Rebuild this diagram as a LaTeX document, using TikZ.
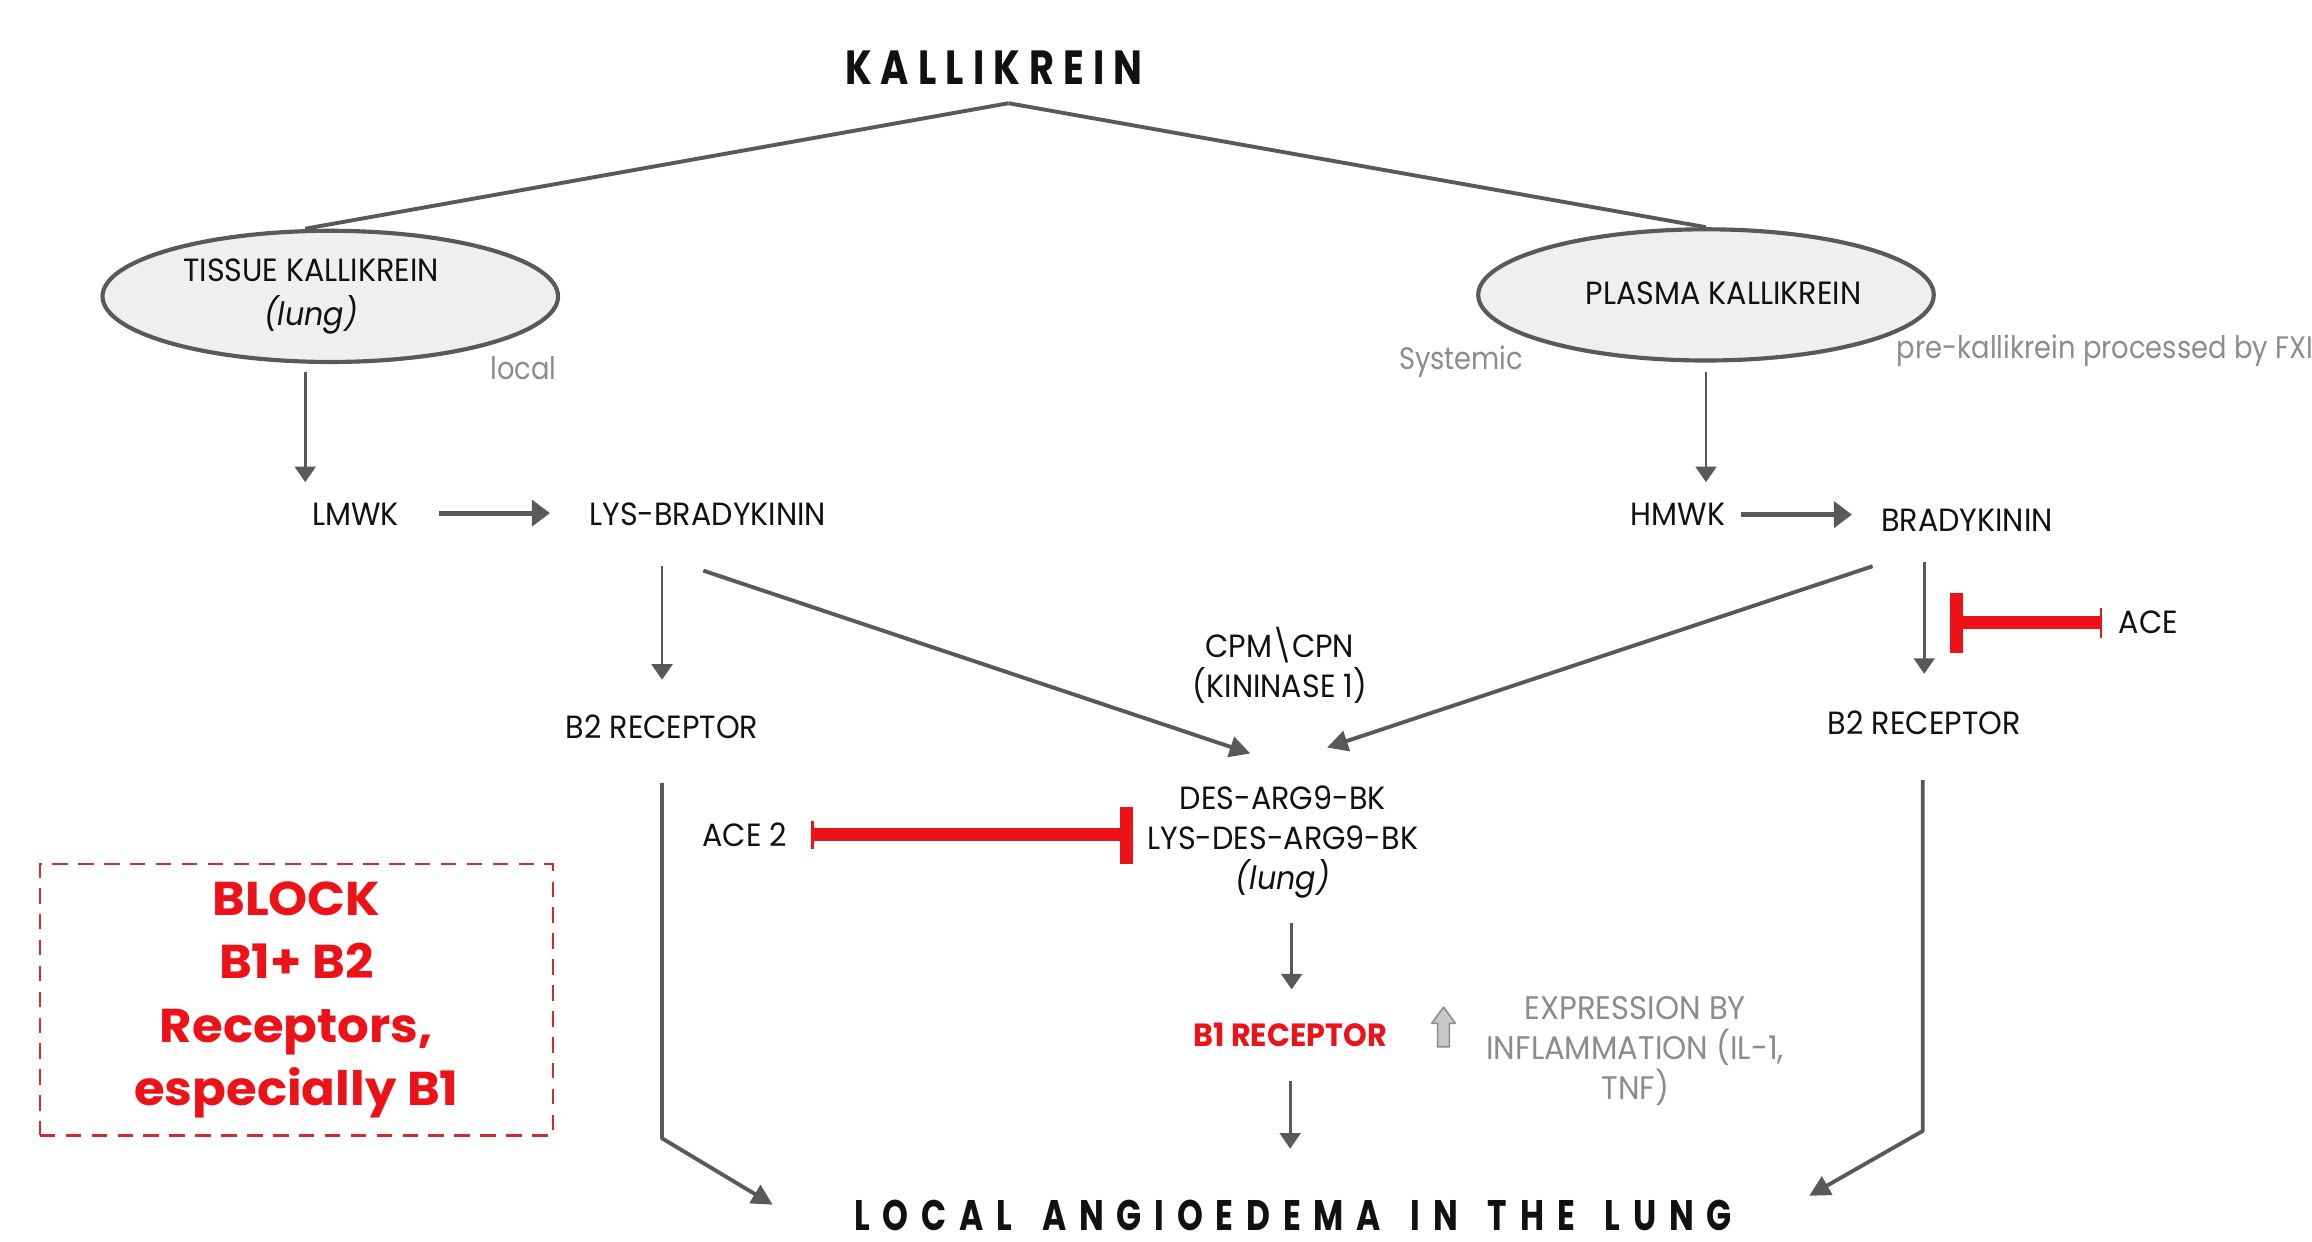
\documentclass[tikz,border=0pt]{standalone}
\usepackage{fontspec}
\setmainfont{Poppins}[FakeStretch=0.94]
\newfontfamily\narrowfont{Poppins}[FakeStretch=0.88]
\newfontfamily\blockfont{Poppins}[FakeStretch=1.05]
\newfontfamily\titlefont{Poppins}[FakeStretch=0.8,LetterSpace=19]
\newfontfamily\footfont{Poppins}[FakeStretch=0.77,LetterSpace=30]
\usetikzlibrary{arrows.meta,shapes.geometric,calc}
\definecolor{lc}{HTML}{595959}
\definecolor{tx}{HTML}{111111}
\definecolor{gt}{HTML}{8C8C8C}
\definecolor{rd}{HTML}{EC1218}
\definecolor{rdb}{HTML}{D42A2F}
\definecolor{ef}{HTML}{EFEFEF}
\definecolor{upf}{HTML}{C8C8C8}
\newcommand{\wsp}{\hspace{11.5pt}}
\begin{document}
\begin{tikzpicture}[x=0.02cm,y=-0.02cm,
  every node/.style={inner sep=0pt,text=tx},
  lbl/.style={font=\fontsize{12.4}{15.4}\selectfont,align=center},
  glbl/.style={font=\narrowfont\fontsize{12}{15.4}\selectfont,text=gt,align=center},
  exlbl/.style={font=\fontsize{12.6}{15.4}\selectfont,text=gt,align=center},
  ttl/.style={font=\titlefont\bfseries\fontsize{18.5}{20}\selectfont},
  ftl/.style={font=\footfont\bfseries\fontsize{16.5}{18}\selectfont},
  ell/.style={ellipse,draw=lc,fill=ef,line width=1.6pt,minimum width=6.18cm,minimum height=1.78cm},
  conn/.style={draw=lc,line width=1.5pt,line join=round},
  arr/.style={draw=lc,line width=1.1pt,-{Triangle[length=6pt,width=8pt]}},
  harr/.style={draw=lc,line width=2pt,-{Triangle[length=7pt,width=10pt]}},
  darr/.style={draw=lc,line width=1.5pt,line join=round,-{Triangle[length=8pt,width=8pt]}},
  inhib/.style={draw=rd,line width=5pt},
  inhend/.style={draw=rd,line width=0.9pt},
  blockbox/.style={draw=rdb,line width=0.9pt,dash pattern=on 6pt off 4pt,
    minimum width=6.96cm,minimum height=3.68cm,text=rd,align=center,
    font=\blockfont\bfseries\fontsize{18.3}{24.5}\selectfont},
  redlbl/.style={text=rd,font=\bfseries\fontsize{12.4}{14}\selectfont},
]
\useasboundingbox (0,0) rectangle (1568,842);
\fill[white] (0,0) rectangle (1568,842);

% nodes
\node[ttl] (kal) at (674,46) {KALLIKREIN};
\coordinate (apex) at (684,70);
\node[ell] (tk) at (224,201) {};
\node[ell] (pk) at (1157,200) {};
\node[lbl] (tkt) at (211,201) {TISSUE KALLIKREIN\\[1.5pt]\textit{(lung)}};
\node[lbl] (pkt) at (1169,199) {PLASMA KALLIKREIN};
\node[glbl] (loc) at (355,250) {local};
\node[glbl] (sys) at (991,245) {Systemic};
\node[glbl,anchor=west] (pre) at (1286,238) {pre-kallikrein processed by FXII};

\node[lbl] (lmwk) at (241,349) {LMWK};
\node[lbl] (lys) at (480,349) {LYS-BRADYKININ};
\node[lbl] (hmwk) at (1138,349) {HMWK};
\node[lbl] (brady) at (1334,353) {BRADYKININ};
\node[lbl] (b2l) at (449,493) {B2 RECEPTOR};
\node[lbl] (b2r) at (1305,490) {B2 RECEPTOR};
\node[lbl] (cpm) at (868,451) {CPM\textbackslash CPN\\(KININASE 1)};
\node[lbl] (ace) at (1457,422) {ACE};
\node[lbl] (ace2) at (505,566) {ACE 2};
\node[lbl] (des) at (870,571) {DES-ARG9-BK\\LYS-DES-ARG9-BK\\\textit{(lung)}};
\node[redlbl] (b1) at (875,702) {B1 RECEPTOR};
\node[exlbl] (expr) at (1109,713) {EXPRESSION BY\\INFLAMMATION (IL-1,\\TNF)};
\node[ftl] (angio) at (877,824) {LOCAL\wsp ANGIOEDEMA\wsp IN\wsp THE\wsp LUNG};
\node[blockbox] (block) at (201,678) {BLOCK\\B1+ B2\\Receptors,\\especially B1};

% connector points
\coordinate (tkA1) at (207,252); \coordinate (tkA2) at (207,327);
\coordinate (pkA1) at (1157,252); \coordinate (pkA2) at (1157,327);
\coordinate (lmA1) at (298,348); \coordinate (lmA2) at (373,348);
\coordinate (hmA1) at (1181,349); \coordinate (hmA2) at (1256,349);
\coordinate (lyA1) at (449,384); \coordinate (lyA2) at (449,461);
\coordinate (lyD1) at (477,387); \coordinate (lyD2) at (848,511);
\coordinate (brD1) at (1270,384); \coordinate (brD2) at (900,507);
\coordinate (brA1) at (1305,381); \coordinate (brA2) at (1305,457);
\coordinate (b2L1) at (449,531); \coordinate (b2Lc) at (449,772); \coordinate (b2L2) at (524,817);
\coordinate (b2R1) at (1304,529); \coordinate (b2Rc) at (1304,767); \coordinate (b2R2) at (1227,811);
\coordinate (dsA1) at (876,626); \coordinate (dsA2) at (876,671);
\coordinate (b1A1) at (875,733); \coordinate (b1A2) at (875,779);

% kallikrein branches
\draw[conn] (apex) -- ($(tk.north)+(-17,0)$);
\draw[conn] (apex) -- (pk.north);

% arrows
\draw[arr] (tkA1) -- (tkA2);
\draw[arr] (pkA1) -- (pkA2);
\draw[harr] (lmA1) -- (lmA2);
\draw[harr] (hmA1) -- (hmA2);
\draw[arr] (lyA1) -- (lyA2);
\draw[darr] (lyD1) -- (lyD2);
\draw[darr] (brD1) -- (brD2);
\draw[arr] (brA1) -- (brA2);
\draw[darr] (b2L1) -- (b2Lc) -- (b2L2);
\draw[darr] (b2R1) -- (b2Rc) -- (b2R2);
\draw[arr] (dsA1) -- (dsA2);
\draw[arr] (b1A1) -- (b1A2);

% ACE inhibition
\coordinate (aceE) at (1425,422); \coordinate (aceT) at (1327,422);
\draw[inhib] (aceE) -- (aceT);
\draw[inhib] (1327,402) -- (1327,443);
\draw[inhend] (1425,412) -- (1425,433);
% ACE 2 inhibition
\coordinate (ace2E) at (551,566); \coordinate (ace2T) at (764,566);
\draw[inhib] (ace2E) -- (ace2T);
\draw[inhib] (764,547) -- (764,586);
\draw[inhend] (551,557) -- (551,576);

% up arrow (expression)
\draw[draw=gt,fill=upf,line width=0.6pt,line join=round]
  (971,694) -- (979,683) -- (987,694) -- (983,694) -- (983,710) -- (975,710) -- (975,694) -- cycle;
\end{tikzpicture}
\end{document}
